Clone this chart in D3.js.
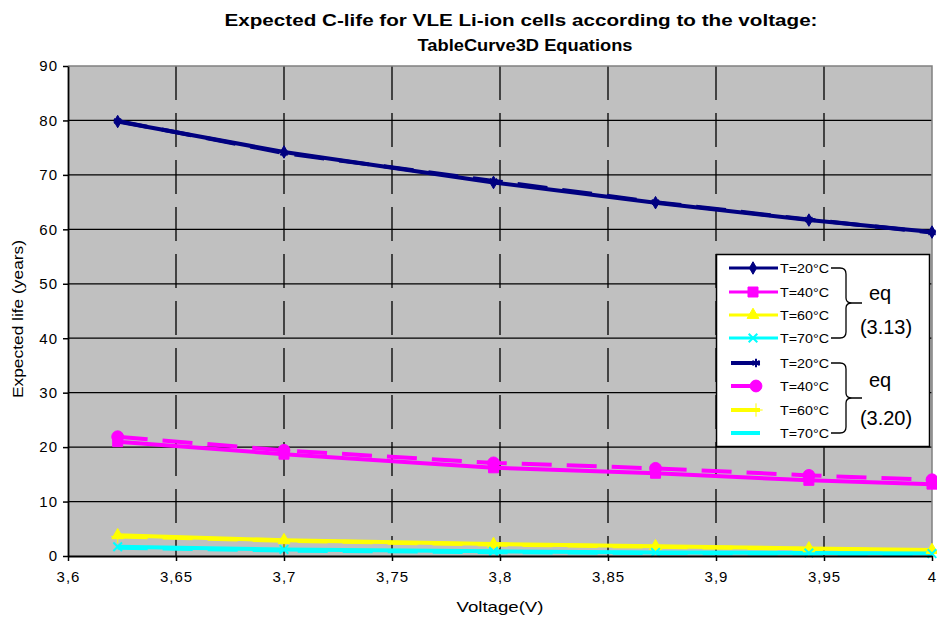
<!DOCTYPE html>
<html>
<head>
<meta charset="utf-8">
<script src="https://cdn.jsdelivr.net/npm/d3@7"></script>
<style>
  body { margin: 0; background: #fff; }
  svg { display: block; font-family: "Liberation Sans", Arial, sans-serif; }
</style>
</head>
<body>
<svg id="chart" width="937" height="622"></svg>
<script>
// ---- data ----
const voltage = [3.623, 3.7, 3.797, 3.872, 3.943, 4.0];
const eq313_T20 = [79.8, 74.2, 68.6, 64.9, 61.7, 59.5];
const eq313_T40 = [21.0, 18.7, 16.2, 15.2, 13.9, 13.2];
const eq313_T60 = [3.8, 2.9, 2.2, 1.8, 1.4, 1.1];
const eq313_T70 = [1.7, 1.2, 0.85, 0.65, 0.55, 0.45];
const eq320_T20 = [79.9, 74.0, 68.9, 65.0, 61.8, 59.4];
const eq320_T40 = [21.9, 19.4, 17.1, 16.1, 14.8, 14.0];
const eq320_T60 = [3.6, 2.8, 2.1, 1.7, 1.3, 1.0];
const eq320_T70 = [1.5, 1.0, 0.7, 0.55, 0.45, 0.35];
const xTicks = [3.6, 3.65, 3.7, 3.75, 3.8, 3.85, 3.9, 3.95, 4.0];
const yTicks = [0, 10, 20, 30, 40, 50, 60, 70, 80, 90];
const legendLabels = ["T=20°C", "T=40°C", "T=60°C", "T=70°C"];

const series = [
  {vals: eq320_T20, color: "#000080", dash: "30,15", sym: d3.symbolAsterisk, size: 50, fill: false, group: 1},
  {vals: eq320_T40, color: "#ff00ff", dash: "30,15", sym: d3.symbolCircle, size: 110, fill: true, group: 1},
  {vals: eq320_T60, color: "#ffff00", dash: "30,15", sym: d3.symbolPlus, size: 60, fill: true, group: 1},
  {vals: eq320_T70, color: "#00ffff", dash: "30,15", sym: null, size: 0, fill: true, group: 1},
  {vals: eq313_T20, color: "#000080", dash: null, sym: d3.symbolDiamond, size: 45, fill: true, group: 0},
  {vals: eq313_T40, color: "#ff00ff", dash: null, sym: d3.symbolSquare, size: 100, fill: true, group: 0},
  {vals: eq313_T60, color: "#ffff00", dash: null, sym: d3.symbolTriangle, size: 60, fill: true, group: 0},
  {vals: eq313_T70, color: "#00ffff", dash: null, sym: d3.symbolTimes, size: 50, fill: false, group: 0}
];

const svg = d3.select("#chart");
const L = 68, R = 932, T = 66, B = 556;
const x = d3.scaleLinear().domain([3.6, 4.0]).range([L, R]);
const y = d3.scaleLinear().domain([0, 90]).range([B, T]);

// plot background
svg.append("rect").attr("x", L).attr("y", T).attr("width", R - L).attr("height", B - T).attr("fill", "#c0c0c0");

// horizontal grid
svg.append("g").selectAll("line").data(yTicks.filter(v => v > 0 && v < 90)).join("line")
  .attr("x1", L).attr("x2", R).attr("y1", d => y(d)).attr("y2", d => y(d))
  .attr("stroke", "#000").attr("stroke-width", 1.3);

// vertical dashed grid
svg.append("g").selectAll("line").data(xTicks.filter(v => v > 3.6 && v < 4.0)).join("line")
  .attr("x1", d => x(d)).attr("x2", d => x(d)).attr("y1", T).attr("y2", B)
  .attr("stroke", "#000").attr("stroke-width", 1.3).attr("stroke-dasharray", "34,13");

// top & right border
svg.append("path").attr("d", `M${L},${T}H${R}V${B}`).attr("fill", "none").attr("stroke", "#808080").attr("stroke-width", 1.5);

// series lines
const line = d3.line().x((d, i) => x(voltage[i])).y(d => y(d));
series.forEach(s => {
  svg.append("path").datum(s.vals).attr("d", line)
    .attr("fill", "none").attr("stroke", s.color).attr("stroke-width", 4)
    .attr("stroke-dasharray", s.dash);
});
// markers
series.forEach(s => {
  if (!s.sym) return;
  svg.append("g").selectAll("path").data(s.vals).join("path")
    .attr("transform", (d, i) => `translate(${x(voltage[i])},${y(d)})`)
    .attr("d", d3.symbol().type(s.sym).size(s.size))
    .attr("fill", s.fill ? s.color : "none")
    .attr("stroke", s.color).attr("stroke-width", s.fill ? 1 : 2);
});

// axes
const yAxis = d3.axisLeft(y).tickValues(yTicks).tickSize(5).tickSizeOuter(0).tickFormat(d3.format("d"));
const gy = svg.append("g").attr("transform", `translate(${L},0)`).call(yAxis);
const xAxis = d3.axisBottom(x).tickValues(xTicks).tickSize(5).tickSizeOuter(0)
  .tickFormat(d => String(+d.toFixed(2)).replace(".", ","));
const gx = svg.append("g").attr("transform", `translate(0,${B})`).call(xAxis);
[gx, gy].forEach(g => {
  g.select(".domain").attr("stroke", "#000").attr("stroke-width", 1.8);
  g.selectAll(".tick line").attr("stroke", "#000").attr("stroke-width", 1.5);
  g.selectAll(".tick text").attr("font-family", "Liberation Sans, Arial, sans-serif")
    .attr("font-size", 15).attr("fill", "#000").style("letter-spacing", "1px");
});
gy.selectAll(".tick text").attr("x", -10);
gx.selectAll(".tick text").attr("y", 15);

// titles
svg.append("text").attr("x", 521).attr("y", 26).attr("text-anchor", "middle")
  .attr("font-size", 17).attr("font-weight", "bold")
  .attr("textLength", 593).attr("lengthAdjust", "spacingAndGlyphs")
  .text("Expected C-life for VLE Li-ion cells according to the voltage:");
svg.append("text").attr("x", 525).attr("y", 51).attr("text-anchor", "middle")
  .attr("font-size", 17).attr("font-weight", "bold")
  .attr("textLength", 215).attr("lengthAdjust", "spacingAndGlyphs")
  .text("TableCurve3D Equations");
svg.append("text").attr("x", 500).attr("y", 612).attr("text-anchor", "middle")
  .attr("font-size", 15).attr("textLength", 87).attr("lengthAdjust", "spacingAndGlyphs")
  .text("Voltage(V)");
svg.append("text").attr("transform", "translate(23,319) rotate(-90)").attr("text-anchor", "middle")
  .attr("font-size", 15).attr("textLength", 158).attr("lengthAdjust", "spacingAndGlyphs")
  .text("Expected life (years)");

// legend
const lg = svg.append("g");
lg.append("rect").attr("x", 716.5).attr("y", 254.5).attr("width", 213).attr("height", 192)
  .attr("fill", "#fff").attr("stroke", "#000").attr("stroke-width", 1.5);
const rowY = [268, 292, 315, 338, 363, 386, 410, 433];
const legOrder = [4, 5, 6, 7, 0, 1, 2, 3];
legOrder.forEach((si, r) => {
  const s = series[si];
  const yy = rowY[r];
  const x1 = s.group === 0 ? 729 : 731, x2 = s.group === 0 ? 778 : 760;
  const mx = s.group === 0 ? 753 : 756;
  lg.append("line").attr("x1", x1).attr("x2", x2).attr("y1", yy).attr("y2", yy)
    .attr("stroke", s.color).attr("stroke-width", s.group === 0 ? 3 : 4);
  if (s.sym) {
    lg.append("path").attr("transform", `translate(${mx},${yy})`)
      .attr("d", d3.symbol().type(s.sym).size(s.size))
      .attr("fill", s.fill ? s.color : "none").attr("stroke", s.color).attr("stroke-width", s.fill ? 1 : 2);
  }
  lg.append("text").attr("x", 780).attr("y", yy + 5).attr("font-size", 13)
    .attr("textLength", 49).attr("lengthAdjust", "spacingAndGlyphs")
    .text(legendLabels[r % 4]);
});
// braces
function brace(y1, y2) {
  const ym = (y1 + y2) / 2;
  return `M831,${y1}H840Q846,${y1} 846,${y1 + 6}V${ym - 5}Q846,${ym} 852,${ym}H862` +
         `M852,${ym}Q846,${ym} 846,${ym + 5}V${y2 - 6}Q846,${y2} 840,${y2}H831`;
}
lg.append("path").attr("d", brace(rowY[0], rowY[3])).attr("fill", "none").attr("stroke", "#000").attr("stroke-width", 1.3);
lg.append("path").attr("d", brace(rowY[4], rowY[7])).attr("fill", "none").attr("stroke", "#000").attr("stroke-width", 1.3);
const eqLabels = [["eq", 300, 880], ["(3.13)", 334, 886], ["eq", 387, 880], ["(3.20)", 425, 886]];
eqLabels.forEach(([t, yy, xx]) => {
  lg.append("text").attr("x", xx).attr("y", yy).attr("text-anchor", "middle")
    .attr("font-size", 20).attr("fill", "#000").text(t);
});
</script>
</body>
</html>
